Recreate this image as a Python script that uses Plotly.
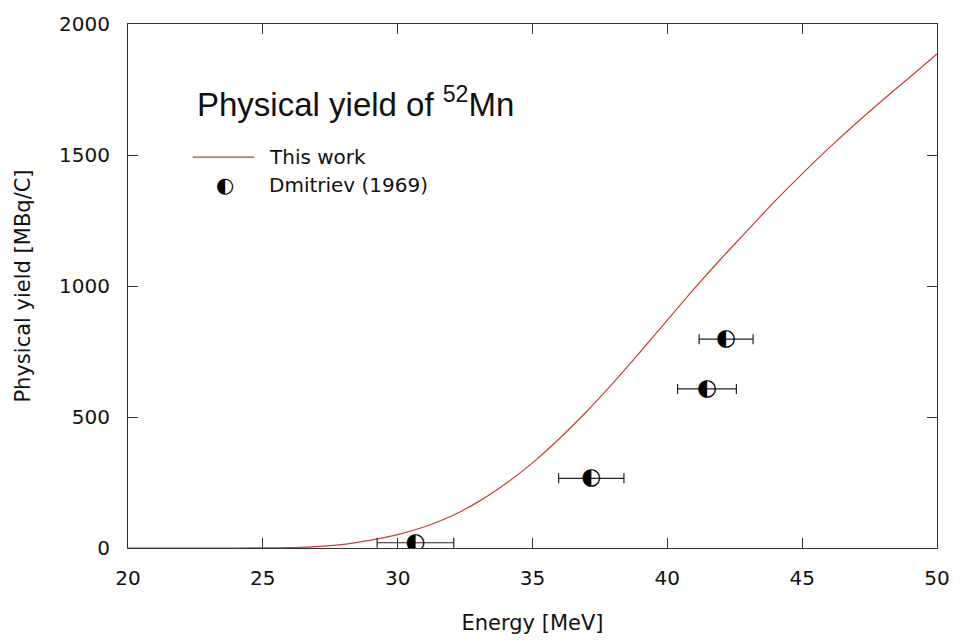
import plotly.graph_objects as go

# Model curve ("This work")
energy_curve = [20, 22, 24, 25, 26, 27, 28, 29, 30, 31, 32, 33, 34, 35, 36, 37, 38,
                39, 40, 41, 42, 43, 44, 45, 46, 47, 48, 49, 50]
yield_curve = [0, 0, 0, 0.3, 1.5, 5, 14, 30, 51, 81, 122, 177, 245, 325, 418, 520, 631,
               749, 870, 990, 1105, 1215, 1325, 1428, 1527, 1621, 1711, 1798, 1886]

# Dmitriev (1969) data
energy_exp = [30.66, 37.18, 41.47, 42.18]
energy_err = [1.42, 1.21, 1.09, 1.0]
yield_exp = [20, 266, 607, 797]

x_ticks = [20, 25, 30, 35, 40, 45, 50]
y_ticks = [0, 500, 1000, 1500, 2000]

FONT = "DejaVu Sans"
AX = "#333333"
TXT = "#111111"
RED = "rgb(205,60,50)"

fig = go.Figure()

fig.add_trace(go.Scatter(
    x=energy_curve, y=yield_curve, mode="lines",
    line=dict(color=RED, width=1.2, shape="spline", smoothing=1.0),
    showlegend=False, hoverinfo="skip"))

fig.add_trace(go.Scatter(
    x=energy_exp, y=yield_exp, mode="text",
    text=["◐"] * len(energy_exp), textposition="middle center",
    textfont=dict(family=FONT, size=23, color="black"),
    error_x=dict(type="data", array=energy_err, visible=True,
                 color="#222222", thickness=1.2, width=5),
    showlegend=False))

axis_common = dict(
    showgrid=False, zeroline=False, showline=True, linecolor=AX, linewidth=1,
    mirror="allticks", ticks="inside", ticklen=10, tickcolor=AX, tickwidth=1,
    tickfont=dict(family=FONT, size=20, color=TXT),
)

fig.update_xaxes(range=[20, 50], tickvals=x_ticks, ticktext=[str(v) for v in x_ticks],
                 title=dict(text="Energy [MeV]", font=dict(family=FONT, size=21, color=TXT),
                            standoff=26),
                 ticklabelstandoff=12, **axis_common)
fig.update_yaxes(range=[0, 2000], tickvals=y_ticks, ticktext=[str(v) for v in y_ticks],
                 title=dict(text="Physical yield [MBq/C]", font=dict(family=FONT, size=21, color=TXT),
                            standoff=22),
                 ticklabelstandoff=13, **axis_common)

# Manual legend and in-plot title
anns = [
    dict(x=0.0825, y=0.852, xref="paper", yref="paper", xanchor="left", yanchor="middle",
         text="Physical yield of <sup>52</sup>Mn", showarrow=False,
         font=dict(family="Liberation Sans", size=33, color=TXT)),
    dict(x=0.1724, y=0.746, xref="paper", yref="paper", xanchor="left", yanchor="middle",
         text="This work", showarrow=False, font=dict(family=FONT, size=20, color=TXT)),
    dict(x=0.1724, y=0.6926, xref="paper", yref="paper", xanchor="left", yanchor="middle",
         text="Dmitriev (1969)", showarrow=False, font=dict(family=FONT, size=20, color=TXT)),
    dict(x=0.1195, y=0.6926, xref="paper", yref="paper", xanchor="center", yanchor="middle",
         text="◐", showarrow=False, font=dict(family=FONT, size=21, color="black")),
]
shapes = [dict(type="line", xref="paper", yref="paper", x0=0.080, x1=0.156, y0=0.746, y1=0.746,
               line=dict(color=RED, width=1.2))]

fig.update_layout(
    width=962, height=643,
    margin=dict(l=128, r=22, t=21, b=95),
    paper_bgcolor="white", plot_bgcolor="white",
    annotations=anns, shapes=shapes, showlegend=False,
)

fig.write_html("out.html")
